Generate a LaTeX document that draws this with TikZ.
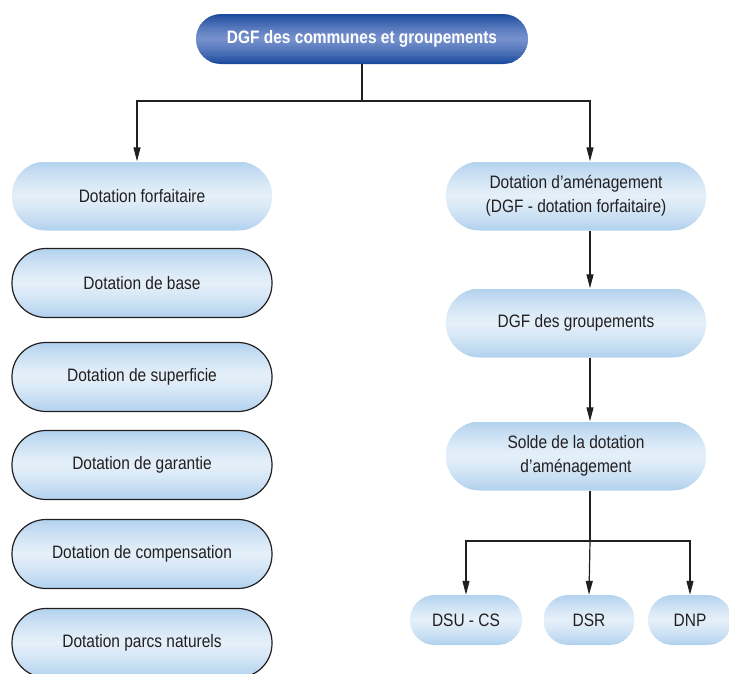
\documentclass[tikz,border=0pt]{standalone}
\usepackage{fontspec}
\setmainfont{Liberation Sans}[FakeStretch=0.86]
\usetikzlibrary{arrows.meta,calc}
\definecolor{palebleu}{HTML}{B4D3EE}
\definecolor{clairbleu}{HTML}{E4EFF9}
\definecolor{fondbleu}{HTML}{1D4C9E}
\definecolor{midbleu}{HTML}{7590CC}
\definecolor{texte}{HTML}{231F20}
\tikzset{
  % vertical gradient built from thin strips: #1 at the edges, #2 in the middle
  grad/.style 2 args={path picture={
    \foreach \k in {0,...,29}{
      \pgfmathsetmacro\mix{100*(abs(\k-14.5)/14.5)^1.3}
      \fill[sharp corners, #1!\mix!#2]
        ($(path picture bounding box.north west)!\k/30!(path picture bounding box.south west)$)
        rectangle ($(path picture bounding box.north east)!{(\k+1.6)/30}!(path picture bounding box.south east)$);
    }}},
  dot/.style={minimum width=260pt, minimum height=69pt, rounded corners=34pt,
    grad={palebleu}{clairbleu}, text=texte, align=center,
    font=\fontsize{18}{24}\selectfont},
  cadre/.style={dot, draw=texte, line width=1.2pt},
  petit/.style={dot, minimum height=50pt, rounded corners=25pt},
  tete/.style={minimum width=332pt, minimum height=50pt, rounded corners=25pt,
    grad={fondbleu}{midbleu}, text=white,
    font=\fontsize{18}{22}\selectfont\bfseries},
  fleche/.style={-{Triangle[width=7pt,length=14pt]}, line width=1.2pt, draw=texte},
  trait/.style={line width=1.2pt, draw=texte}
}
\begin{document}
\begin{tikzpicture}[x=1pt,y=-1pt]
\useasboundingbox (0,0) rectangle (729,673);
\node[tete] (dgf) at (362,39) {DGF des communes et groupements};

\node[dot] (forf) at (142,196) {Dotation forfaitaire};
\node[cadre] (base) at (142,283) {Dotation de base};
\node[cadre] (superf) at (142,377) {Dotation de superficie};
\node[cadre] (garant) at (142,465) {Dotation de garantie};
\node[cadre] (compens) at (142,554) {Dotation de compensation};
\node[cadre] (parcs) at (142,643) {Dotation parcs naturels};

\node[dot] (amen) at (576,196) {Dotation d’aménagement\\(DGF - dotation forfaitaire)};
\node[dot] (grp) at (576,323) {DGF des groupements};
\node[dot] (solde) at (576,456) {Solde de la dotation\\d’aménagement};

\node[petit, minimum width=112pt] (dsu) at (466,620) {DSU - CS};
\node[petit, minimum width=91pt] (dsr) at (589,620) {DSR};
\node[petit, minimum width=84pt] (dnp) at (690,620) {DNP};

\coordinate (split) at (362,101);
\coordinate (gauche) at (137,101);
\coordinate (axe) at (590,101);
\coordinate (fork) at (590,541);
\draw[trait] (dgf.south) -- (split);
\draw[fleche] (split) -| (forf.north -| gauche);
\draw[fleche] (split) -| (amen.north -| axe);
\draw[fleche] (amen.south -| axe) -- (grp.north -| axe);
\draw[fleche] (grp.south -| axe) -- (solde.north -| axe);
\draw[trait] (solde.south -| axe) -- (fork);
\draw[fleche] (fork) -| (dsu.north);
\draw[fleche] (fork) -- (dsr.north);
\draw[fleche] (fork) -| (dnp.north);
\end{tikzpicture}
\end{document}
